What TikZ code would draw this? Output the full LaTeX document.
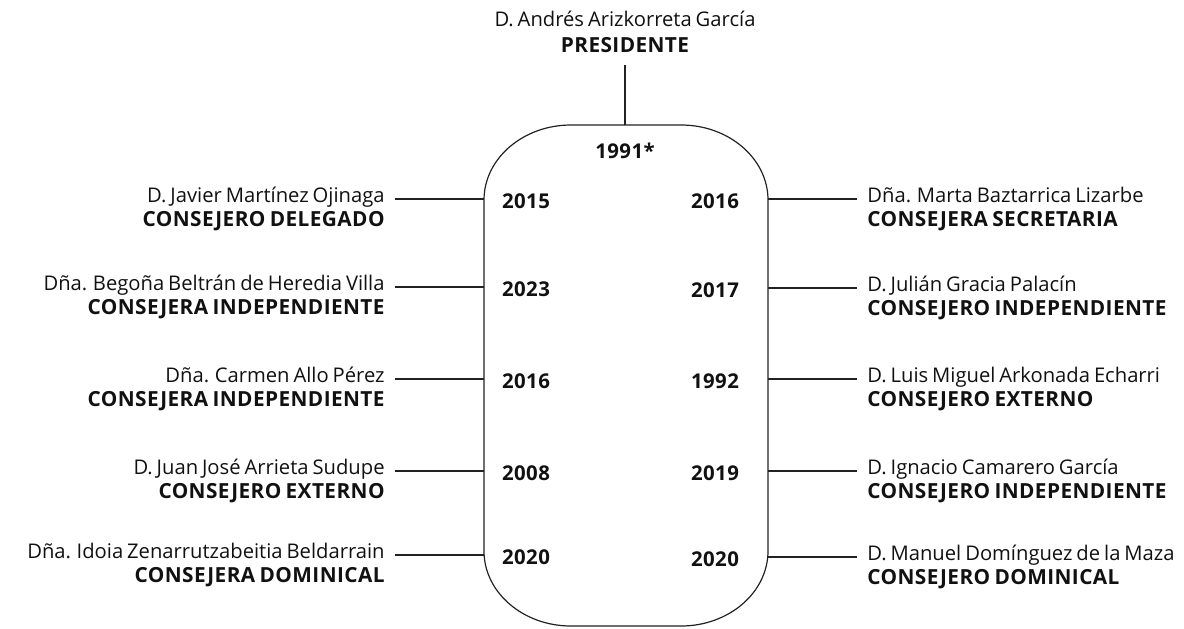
\documentclass[tikz,border=0pt]{standalone}
\usepackage{fontspec}
\setmainfont{Open Sans}[WordSpace=0.75, BoldFeatures={LetterSpace=2}]
\usepackage{tikz}
\usetikzlibrary{positioning, calc}
\definecolor{bInk}{HTML}{111111}
\definecolor{bLine}{HTML}{222222}

\tikzset{
  memname/.style={font=\fontsize{10.1}{12}\selectfont, text=bInk, inner xsep=5pt, inner ysep=0pt},
  memrole/.style={memname, font=\fontsize{10.4}{12}\selectfont\bfseries},
  memyear/.style={font=\fontsize{10.2}{12}\selectfont\bfseries, text=bInk, inner sep=0pt},
  link/.style={draw=bLine, line width=0.6pt},
}

\begin{document}
\begin{tikzpicture}[x=0.5pt, y=-0.5pt]
  \useasboundingbox (0,0) rectangle (1184,628);
  % the board
  \node[minimum width=142pt, minimum height=250.5pt, inner sep=0pt] (board) at (626,375.5) {};
  \draw[link] (484,200) .. controls (484,158.6) and (523,125) .. (571,125) -- (681,125)
    .. controls (729,125) and (768,158.6) .. (768,200) -- (768,551)
    .. controls (768,592.4) and (729,626) .. (681,626) -- (571,626)
    .. controls (523,626) and (484,592.4) .. (484,551) -- cycle;

  % president
  \node[memname, anchor=base] (presname) at (625,26) {D. Andrés Arizkorreta García};
  \node[memrole, anchor=base] (presrole) at (625,52.5) {PRESIDENTE};
  \draw[link] ([yshift=-6pt]presrole.base) -- (presrole.base |- board.north);
  \node[memyear] (y0) at (625,150.5) {1991*};

  % left column
  \foreach \i/\ly/\who/\what/\yr in {
      1/199/{D. Javier Martínez Ojinaga}/{CONSEJERO DELEGADO}/2015,
      2/287/{Dña. Begoña Beltrán de Heredia Villa}/{CONSEJERA INDEPENDIENTE}/2023,
      3/379/{Dña. Carmen Allo Pérez}/{CONSEJERA INDEPENDIENTE}/2016,
      4/471/{D. Juan José Arrieta Sudupe}/{CONSEJERO EXTERNO}/2008,
      5/555/{Dña. Idoia Zenarrutzabeitia Beldarrain}/{CONSEJERA DOMINICAL}/2020}{
    \node[memname, anchor=base east] (ln\i) at (395,\ly+3) {\who};
    \node[memrole, anchor=base east] (lr\i) at (395,\ly+27) {\what};
    \node[memyear] (ly\i) at (526,\ly+2) {\yr};
    \draw[link] ([yshift=1.5pt]ln\i.base east) -- ([yshift=1.5pt]ln\i.base east -| board.west);
  }

  % right column
  \foreach \i/\ly/\who/\what/\yr in {
      1/199/{Dña. Marta Baztarrica Lizarbe}/{CONSEJERA SECRETARIA}/2016,
      2/288/{D. Julián Gracia Palacín}/{CONSEJERO INDEPENDIENTE}/2017,
      3/379/{D. Luis Miguel Arkonada Echarri}/{CONSEJERO EXTERNO}/1992,
      4/471/{D. Ignacio Camarero García}/{CONSEJERO INDEPENDIENTE}/2019,
      5/557/{D. Manuel Domínguez de la Maza}/{CONSEJERO DOMINICAL}/2020}{
    \node[memname, anchor=base west] (rn\i) at (857,\ly+3) {\who};
    \node[memrole, anchor=base west] (rr\i) at (857,\ly+27) {\what};
    \node[memyear] (ry\i) at (715,\ly+2) {\yr};
    \draw[link] ([yshift=1.5pt]rn\i.base west) -- ([yshift=1.5pt]rn\i.base west -| board.east);
  }
\end{tikzpicture}
\end{document}
